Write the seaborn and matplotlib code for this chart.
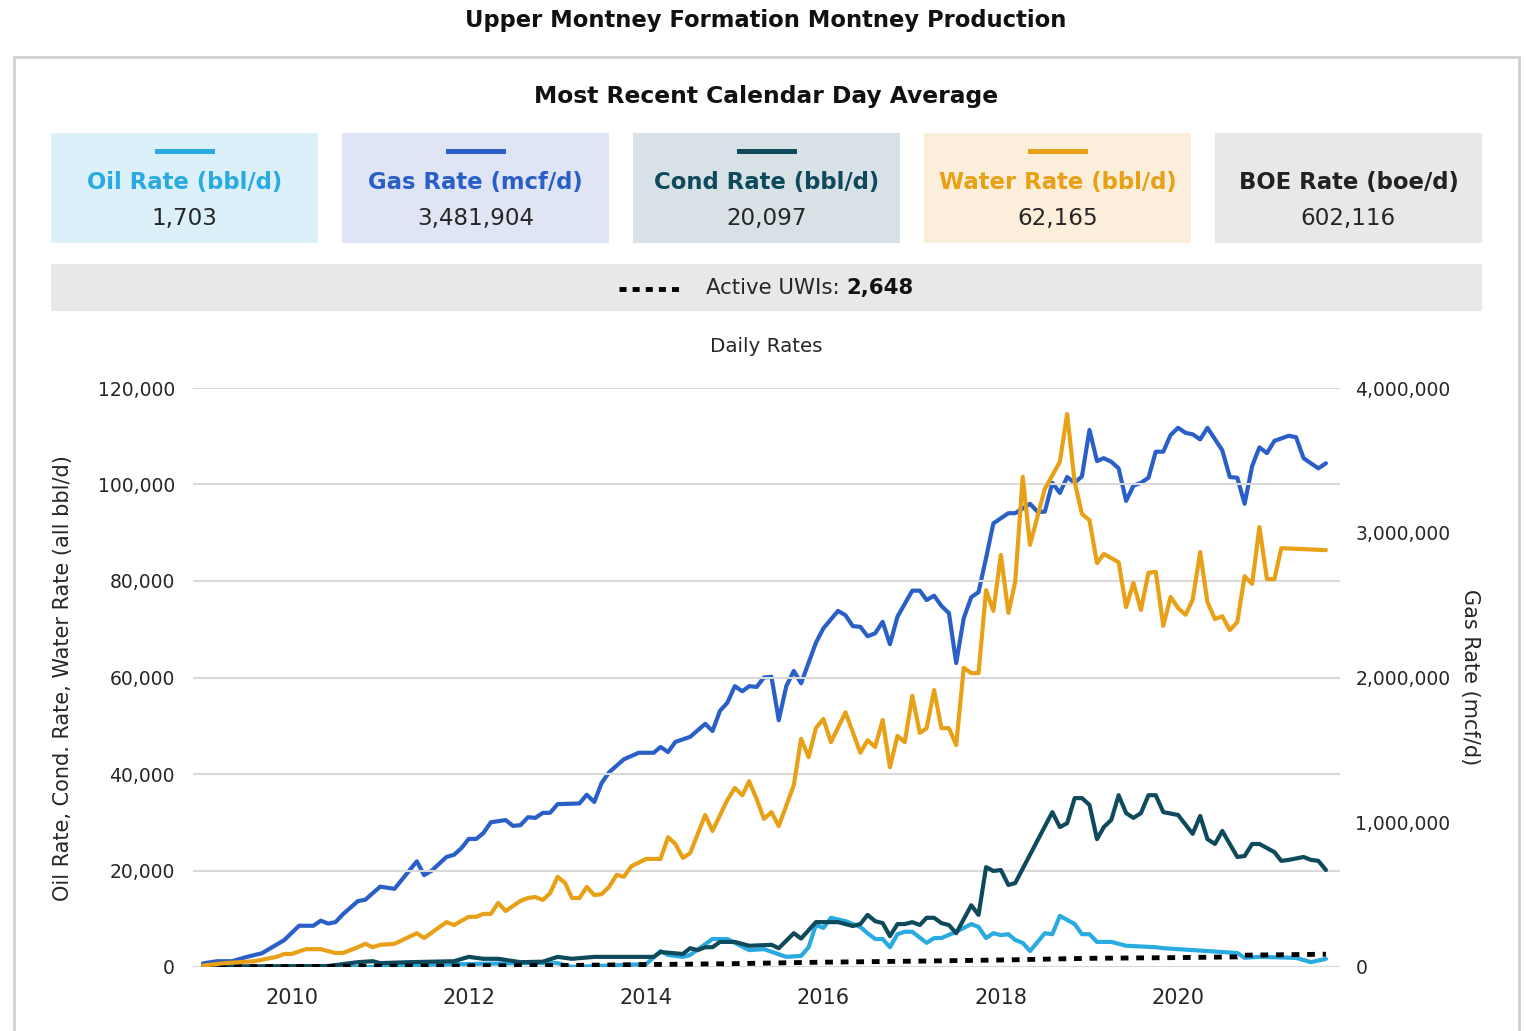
import matplotlib
matplotlib.use("Agg")
import matplotlib.pyplot as plt
import matplotlib.dates as mdates
from matplotlib.patches import Rectangle
from matplotlib.lines import Line2D
from matplotlib.ticker import FuncFormatter, MultipleLocator
import seaborn as sns
import pandas as pd

# ---------------- data ----------------
gas_dates = ["2009-01", "2009-03", "2009-05", "2009-07", "2009-09", "2009-12", "2010-02", "2010-04", "2010-05", "2010-06",
             "2010-07", "2010-08", "2010-10", "2010-11", "2011-01", "2011-03", "2011-06", "2011-07", "2011-08", "2011-10",
             "2011-11", "2011-12", "2012-01", "2012-02", "2012-03", "2012-04", "2012-06", "2012-07", "2012-08", "2012-09",
             "2012-10", "2012-11", "2012-12", "2013-01", "2013-04", "2013-05", "2013-06", "2013-07", "2013-08", "2013-10",
             "2013-12", "2014-02", "2014-03", "2014-04", "2014-05", "2014-07", "2014-09", "2014-10", "2014-11", "2014-12",
             "2015-01", "2015-02", "2015-03", "2015-04", "2015-05", "2015-06", "2015-07", "2015-08", "2015-09", "2015-10",
             "2015-12", "2016-01", "2016-03", "2016-04", "2016-05", "2016-06", "2016-07", "2016-08", "2016-09", "2016-10",
             "2016-11", "2017-01", "2017-02", "2017-03", "2017-04", "2017-05", "2017-06", "2017-07", "2017-08", "2017-09",
             "2017-10", "2017-11", "2017-12", "2018-02", "2018-03", "2018-05", "2018-06", "2018-07", "2018-08", "2018-09",
             "2018-10", "2018-11", "2018-12", "2019-01", "2019-02", "2019-03", "2019-04", "2019-05", "2019-06", "2019-07",
             "2019-08", "2019-09", "2019-10", "2019-11", "2019-12", "2020-01", "2020-02", "2020-03", "2020-04", "2020-05",
             "2020-07", "2020-08", "2020-09", "2020-10", "2020-11", "2020-12", "2021-01", "2021-02", "2021-04", "2021-05",
             "2021-06", "2021-07", "2021-08", "2021-09"]
gas_rate = [25000, 40000, 40000, 70000, 95000, 185000, 285000, 285000, 320000, 300000,
            310000, 365000, 455000, 465000, 555000, 540000, 730000, 635000, 665000, 760000,
            775000, 820000, 885000, 885000, 925000, 1000000, 1015000, 975000, 980000, 1035000,
            1030000, 1065000, 1065000, 1125000, 1130000, 1190000, 1140000, 1270000, 1345000, 1435000,
            1480000, 1480000, 1520000, 1485000, 1555000, 1590000, 1680000, 1630000, 1770000, 1825000,
            1940000, 1905000, 1940000, 1935000, 2000000, 2005000, 1705000, 1940000, 2045000, 1960000,
            2240000, 2340000, 2460000, 2430000, 2355000, 2350000, 2285000, 2305000, 2385000, 2230000,
            2420000, 2600000, 2600000, 2535000, 2565000, 2495000, 2445000, 2100000, 2410000, 2555000,
            2590000, 2825000, 3065000, 3135000, 3135000, 3200000, 3145000, 3145000, 3345000, 3275000,
            3385000, 3345000, 3390000, 3710000, 3495000, 3515000, 3490000, 3445000, 3220000, 3325000,
            3345000, 3380000, 3560000, 3560000, 3675000, 3725000, 3690000, 3680000, 3645000, 3725000,
            3570000, 3385000, 3380000, 3200000, 3460000, 3590000, 3550000, 3635000, 3670000, 3660000,
            3515000, 3480000, 3445000, 3480000]

water_dates = ["2009-01", "2009-04", "2009-06", "2009-08", "2009-11", "2009-12", "2010-01", "2010-03", "2010-05", "2010-07",
               "2010-08", "2010-10", "2010-11", "2010-12", "2011-01", "2011-03", "2011-06", "2011-07", "2011-10", "2011-11",
               "2012-01", "2012-02", "2012-03", "2012-04", "2012-05", "2012-06", "2012-08", "2012-09", "2012-10", "2012-11",
               "2012-12", "2013-01", "2013-02", "2013-03", "2013-04", "2013-05", "2013-06", "2013-07", "2013-08", "2013-09",
               "2013-10", "2013-11", "2014-01", "2014-03", "2014-04", "2014-05", "2014-06", "2014-07", "2014-09", "2014-10",
               "2014-12", "2015-01", "2015-02", "2015-03", "2015-04", "2015-05", "2015-06", "2015-07", "2015-09", "2015-10",
               "2015-11", "2015-12", "2016-01", "2016-02", "2016-04", "2016-06", "2016-07", "2016-08", "2016-09", "2016-10",
               "2016-11", "2016-12", "2017-01", "2017-02", "2017-03", "2017-04", "2017-05", "2017-06", "2017-07", "2017-08",
               "2017-09", "2017-10", "2017-11", "2017-12", "2018-01", "2018-02", "2018-03", "2018-04", "2018-05", "2018-07",
               "2018-09", "2018-10", "2018-11", "2018-12", "2019-01", "2019-02", "2019-03", "2019-05", "2019-06", "2019-07",
               "2019-08", "2019-09", "2019-10", "2019-11", "2019-12", "2020-01", "2020-02", "2020-03", "2020-04", "2020-05",
               "2020-06", "2020-07", "2020-08", "2020-09", "2020-10", "2020-11", "2020-12", "2021-01", "2021-02", "2021-03",
               "2021-09"]
water_rate = [300, 800, 1000, 1200, 2100, 2700, 2700, 3700, 3700, 2900,
              2900, 4100, 4800, 4100, 4600, 4800, 7000, 6000, 9300, 8700,
              10400, 10400, 11000, 11000, 13300, 11600, 13700, 14300, 14500, 13900,
              15300, 18700, 17400, 14300, 14300, 16600, 14900, 15100, 16600, 19100,
              18700, 20900, 22400, 22400, 26900, 25500, 22600, 23600, 31500, 28200,
              34600, 37100, 35600, 38500, 34800, 30700, 32100, 29200, 37700, 47300,
              43500, 49500, 51400, 46600, 52800, 44400, 47000, 45600, 51200, 41400,
              47900, 46600, 56200, 48500, 49500, 57400, 49500, 49500, 46000, 62000,
              60900, 60900, 78100, 73800, 85400, 73400, 79800, 101600, 87500, 99100,
              104700, 114600, 100500, 93900, 92600, 83700, 85600, 83900, 74600, 79600,
              74000, 81700, 81900, 70700, 76700, 74400, 73000, 76100, 86000, 75600,
              72100, 72700, 69800, 71500, 81000, 79400, 91200, 80400, 80400, 86800,
              86400]

cond_dates = ["2009-01", "2010-06", "2010-10", "2010-12", "2011-01", "2011-05", "2011-11", "2012-01", "2012-03", "2012-05",
              "2012-08", "2012-11", "2013-01", "2013-03", "2013-06", "2014-02", "2014-03", "2014-06", "2014-07", "2014-08",
              "2014-09", "2014-10", "2014-11", "2015-01", "2015-03", "2015-06", "2015-07", "2015-09", "2015-10", "2015-12",
              "2016-03", "2016-05", "2016-06", "2016-07", "2016-08", "2016-09", "2016-10", "2016-11", "2016-12", "2017-01",
              "2017-02", "2017-03", "2017-04", "2017-05", "2017-06", "2017-07", "2017-09", "2017-10", "2017-11", "2017-12",
              "2018-01", "2018-02", "2018-03", "2018-08", "2018-09", "2018-10", "2018-11", "2018-12", "2019-01", "2019-02",
              "2019-03", "2019-04", "2019-05", "2019-06", "2019-07", "2019-08", "2019-09", "2019-10", "2019-11", "2020-01",
              "2020-03", "2020-04", "2020-05", "2020-06", "2020-07", "2020-09", "2020-10", "2020-11", "2020-12", "2021-02",
              "2021-03", "2021-04", "2021-06", "2021-07", "2021-08", "2021-09"]
cond_rate = [100, 200, 1000, 1200, 800, 1000, 1200, 2100, 1700, 1700,
             1000, 1100, 2100, 1700, 2100, 2100, 3100, 2700, 3900, 3500,
             4100, 4100, 5200, 5200, 4400, 4600, 3900, 7000, 5900, 9300,
             9300, 8500, 8900, 10800, 9500, 9100, 6400, 8900, 8900, 9300,
             8700, 10200, 10200, 9100, 8700, 7000, 12800, 10800, 20700, 19900,
             20100, 17000, 17400, 32100, 29000, 29800, 35000, 35000, 33600, 26500,
             29000, 30500, 35600, 31900, 30900, 31900, 35600, 35600, 32100, 31500,
             27600, 31300, 26500, 25500, 28200, 22800, 23000, 25500, 25500, 23800,
             22000, 22200, 22800, 22200, 22000, 20100]

oil_dates = ["2009-01", "2010-12", "2011-01", "2012-08", "2013-01", "2013-03", "2014-01", "2014-03", "2014-04", "2014-06",
             "2014-07", "2014-10", "2014-12", "2015-03", "2015-05", "2015-08", "2015-10", "2015-11", "2015-12", "2016-01",
             "2016-02", "2016-04", "2016-06", "2016-07", "2016-08", "2016-09", "2016-10", "2016-11", "2016-12", "2017-01",
             "2017-03", "2017-04", "2017-05", "2017-07", "2017-09", "2017-10", "2017-11", "2017-12", "2018-01", "2018-02",
             "2018-03", "2018-04", "2018-05", "2018-07", "2018-08", "2018-09", "2018-11", "2018-12", "2019-01", "2019-02",
             "2019-04", "2019-06", "2019-10", "2019-11", "2020-09", "2020-10", "2020-12", "2021-05", "2021-07", "2021-09"]
oil_rate = [0, 0, 300, 800, 800, 0, 600, 3300, 2500, 2100,
            2500, 5800, 5800, 3500, 3700, 2100, 2300, 4100, 8700, 8100,
            10200, 9500, 8300, 7000, 5800, 5800, 4100, 6800, 7300, 7300,
            5000, 6000, 6000, 7300, 8900, 8300, 6000, 7000, 6600, 6800,
            5600, 5000, 3300, 7000, 6800, 10600, 8900, 6800, 6800, 5200,
            5200, 4400, 4100, 3900, 2900, 1900, 2100, 1900, 1000, 1700]

uwi_dates = ["2009-01", "2011-01", "2013-01", "2014-01", "2015-01", "2016-01", "2017-01", "2018-01", "2019-01",
             "2020-01", "2020-09", "2020-10", "2021-09"]
uwi_count = [50, 150, 300, 500, 700, 1000, 1200, 1450, 1800, 1950, 2100, 2450, 2648]

kpi_labels = ["Oil Rate (bbl/d)", "Gas Rate (mcf/d)", "Cond Rate (bbl/d)", "Water Rate (bbl/d)", "BOE Rate (boe/d)"]
kpi_values = ["1,703", "3,481,904", "20,097", "62,165", "602,116"]
active_uwis = "2,648"

# ---------------- style ----------------
C_OIL, C_GAS, C_COND, C_WATER = "#29abe2", "#2b5fc8", "#0e4a5c", "#e8a016"
kpi_text_colors = [C_OIL, C_GAS, C_COND, C_WATER, "#222222"]
kpi_bar_colors = [C_OIL, C_GAS, C_COND, C_WATER, None]
kpi_bg = ["#dcf0fa", "#dfe5f4", "#d8e2e6", "#fbefdc", "#e8e8e8"]

sns.set_style("white")
plt.rcParams["font.family"] = ["DejaVu Sans"]

W, H = 1527, 1031
fig = plt.figure(figsize=(W / 100, H / 100), dpi=100)


def fx(x):
    return x / W


def fy(y):
    return 1 - y / H


TXT = "#262626"
fig.text(fx(766), fy(20), "Upper Montney Formation Montney Production", ha="center", va="center",
         fontsize=16.3, fontweight="bold", color="#111111")
fig.add_artist(Rectangle((fx(14), fy(1040)), fx(1519 - 14), (1040 - 57) / H, transform=fig.transFigure,
                         fill=False, edgecolor="#d0d0d0", lw=2))
fig.text(fx(766), fy(97), "Most Recent Calendar Day Average", ha="center", va="center",
         fontsize=16.8, fontweight="bold", color="#111111")

tile_left = [51, 342, 633, 924, 1215]
for i in range(5):
    x0 = tile_left[i]
    fig.add_artist(Rectangle((fx(x0), fy(243)), fx(267), (243 - 133) / H, transform=fig.transFigure,
                             facecolor=kpi_bg[i], edgecolor="none"))
    cx = x0 + 133.5
    if kpi_bar_colors[i]:
        fig.add_artist(Rectangle((fx(cx - 30), fy(154)), fx(60), 5 / H, transform=fig.transFigure,
                                 facecolor=kpi_bar_colors[i], edgecolor="none"))
    fig.text(fx(cx), fy(182), kpi_labels[i], ha="center", va="center", fontsize=16.4,
             fontweight="bold", color=kpi_text_colors[i])
    fig.text(fx(cx), fy(218), kpi_values[i], ha="center", va="center", fontsize=16.6, color=TXT)

fig.add_artist(Rectangle((fx(51), fy(311)), fx(1431), (311 - 264) / H, transform=fig.transFigure,
                         facecolor="#e8e8e8", edgecolor="none"))
fig.add_artist(Line2D([fx(619), fx(680)], [fy(289), fy(289)], transform=fig.transFigure, color="black",
                      lw=3.5, linestyle=(0, (1.45, 1.25)), solid_capstyle="butt", dash_capstyle="butt"))
t1 = fig.text(fx(706), fy(288), "Active UWIs: ", ha="left", va="center", fontsize=15.3, color=TXT)
fig.canvas.draw()
bb = t1.get_window_extent(renderer=fig.canvas.get_renderer())
fig.text(bb.x1 / W, fy(288), active_uwis, ha="left", va="center", fontsize=15.3, fontweight="bold",
         color="#111111")

fig.text(fx(766), fy(347), "Daily Rates", ha="center", va="center", fontsize=14.3, color=TXT)

# ---------------- chart ----------------
ax = fig.add_axes([fx(193), fy(967), fx(1340 - 193), (967 - 388) / H])
ax2 = ax.twinx()


def frame(dates, vals):
    return pd.DataFrame({"date": pd.to_datetime(dates), "value": vals})


LW = 3.0
sns.lineplot(data=frame(oil_dates, oil_rate), x="date", y="value", ax=ax, color=C_OIL, lw=LW)
sns.lineplot(data=frame(cond_dates, cond_rate), x="date", y="value", ax=ax, color=C_COND, lw=LW)
sns.lineplot(data=frame(uwi_dates, uwi_count), x="date", y="value", ax=ax, color="black", lw=3.5,
             linestyle=(0, (1.6, 1.6)))
sns.lineplot(data=frame(water_dates, water_rate), x="date", y="value", ax=ax, color=C_WATER, lw=LW)
sns.lineplot(data=frame(gas_dates, gas_rate), x="date", y="value", ax=ax2, color=C_GAS, lw=LW)

ax.set_zorder(ax2.get_zorder() + 1)
ax.patch.set_visible(False)

ax.set_xlim(pd.Timestamp("2008-11-21"), pd.Timestamp("2021-10-29"))
ax.set_ylim(0, 120000)
ax2.set_ylim(0, 4000000)
ax.yaxis.set_major_locator(MultipleLocator(20000))
ax2.yaxis.set_major_locator(MultipleLocator(1000000))
comma = FuncFormatter(lambda v, p: f"{int(v):,}")
ax.yaxis.set_major_formatter(comma)
ax2.yaxis.set_major_formatter(comma)
ax.xaxis.set_major_locator(mdates.YearLocator(2))
ax.xaxis.set_major_formatter(mdates.DateFormatter("%Y"))

ax.grid(axis="y", color="#d9d9d9", lw=1.5)
ax.grid(axis="x", visible=False)
ax2.grid(False)
for a in (ax, ax2):
    for s in a.spines.values():
        s.set_visible(False)
    a.set_xlabel("")
    a.set_ylabel("")
ax.tick_params(axis="y", length=0, labelsize=13.5, labelcolor=TXT, pad=13)
ax.tick_params(axis="x", length=0, labelsize=15, labelcolor=TXT, pad=15)
ax2.tick_params(axis="y", length=0, labelsize=13.5, labelcolor=TXT, pad=11)

fig.text(fx(63), fy(678), "Oil Rate, Cond. Rate, Water Rate (all bbl/d)", rotation=90, ha="center", va="center",
         fontsize=15, color=TXT)
fig.text(fx(1470), fy(677), "Gas Rate (mcf/d)", rotation=270, ha="center", va="center", fontsize=15, color=TXT)

fig.savefig("out.png", dpi=100)
